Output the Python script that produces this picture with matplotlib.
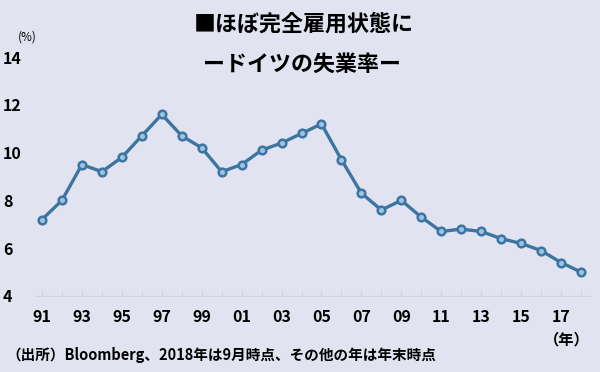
import matplotlib.pyplot as plt

plt.rcParams['font.family'] = ['Noto Sans CJK JP', 'DejaVu Sans']

# -------------------------------
# data: German unemployment rate (%)
# -------------------------------
years = list(range(1991, 2019))
rate = [7.2, 8.0, 9.5, 9.2, 9.8, 10.7, 11.6, 10.7, 10.2, 9.2,
        9.5, 10.1, 10.4, 10.8, 11.2, 9.7, 8.3, 7.6, 8.0, 7.3,
        6.7, 6.8, 6.7, 6.4, 6.2, 5.9, 5.4, 5.0]
tick_years = list(range(1991, 2018, 2))
tick_labels = ["%02d" % (y % 100) for y in tick_years]
y_ticks = [4, 6, 8, 10, 12, 14]

bg = '#E1E4F0'
line_c = '#3C74A2'

fig = plt.figure(figsize=(6, 3.72), dpi=100, facecolor=bg)
ax = fig.add_axes([35 / 600, 1 - 296 / 372, 555 / 600, 239 / 372], facecolor=bg)

ax.plot(years, rate, color=line_c, lw=2.4, marker='o', ms=5.5,
        mfc='#9CC3E0', mec=line_c, mew=1.8, zorder=3)

ax.set_xlim(1990.65, 2018.45)
ax.set_ylim(4, 14)
ax.set_xticks(years, minor=True)
ax.set_xticks(tick_years)
ax.set_xticklabels(tick_labels, fontsize=11.5, fontweight='bold')
ax.set_yticks(y_ticks)
ax.set_yticklabels([str(v) for v in y_ticks], fontsize=11.5, fontweight='bold', ha='left')
ax.tick_params(axis='y', length=0, pad=23)
ax.tick_params(axis='x', which='both', length=4, color='#D0D4E0', direction='in', pad=9)

for s in ['top', 'right', 'left']:
    ax.spines[s].set_visible(False)
ax.spines['bottom'].set_color('#D0D4E0')

# -------------------------------
# text
# -------------------------------
fig.text(304 / 600, 1 - 24 / 372, '■ほぼ完全雇用状態に', ha='center', va='center',
         fontsize=15.8, fontweight='bold')
fig.text(302 / 600, 1 - 64 / 372, 'ードイツの失業率ー', ha='center', va='center',
         fontsize=15.8, fontweight='bold')
fig.text(18 / 600, 1 - 37 / 372, '(%)', ha='left', va='center', fontsize=8.5)
fig.text(590 / 600, 1 - 339 / 372, '（年）', ha='right', va='center',
         fontsize=11, fontweight='bold')
fig.text(6 / 600, 1 - 355 / 372, '（出所）Bloomberg、2018年は9月時点、その他の年は年末時点',
         ha='left', va='center', fontsize=10.5, fontweight='bold')

fig.savefig('out.png', dpi=100, facecolor=bg)
